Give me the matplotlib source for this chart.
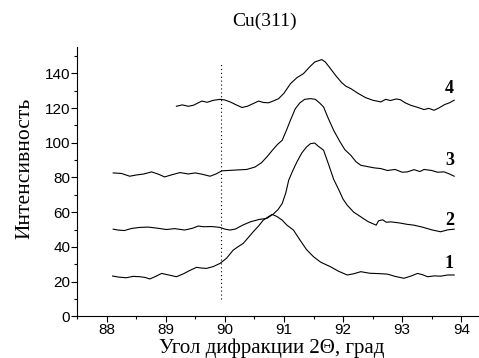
import matplotlib
matplotlib.use("Agg")
from matplotlib import pyplot as plt
from matplotlib.ticker import MultipleLocator

# curve 1
x1 = [88.10, 88.20, 88.33, 88.45, 88.56, 88.65, 88.73, 88.83, 88.93, 89.05,
      89.18, 89.30, 89.40, 89.52, 89.60, 89.69, 89.80, 89.92, 90.03, 90.14,
      90.22, 90.31, 90.40, 90.48, 90.57, 90.65, 90.72, 90.80, 90.88, 90.97,
      91.05, 91.16, 91.27, 91.38, 91.50, 91.62, 91.79, 91.92, 92.07, 92.18,
      92.30, 92.45, 92.60, 92.75, 92.88, 93.03, 93.15, 93.26, 93.35, 93.43,
      93.55, 93.65, 93.77, 93.88]
y1 = [23.2, 22.6, 22.2, 23.0, 22.8, 22.4, 21.5, 23.0, 24.7, 23.8,
      22.8, 24.5, 26.3, 28.2, 27.8, 27.6, 28.6, 30.5, 33.5, 38.1,
      40.0, 42.0, 45.5, 48.7, 52.0, 55.4, 57.0, 58.7, 57.5, 55.4,
      52.5, 49.7, 44.0, 38.5, 34.3, 31.2, 28.5, 26.0, 23.8, 24.5,
      25.7, 24.8, 24.6, 24.3, 23.0, 21.9, 23.2, 24.7, 23.9, 22.8,
      23.3, 23.1, 23.8, 23.8]

# curve 2
x2 = [88.11, 88.19, 88.30, 88.42, 88.56, 88.70, 88.85, 89.01, 89.15, 89.32,
      89.45, 89.55, 89.64, 89.78, 89.92, 90.00, 90.09, 90.18, 90.30, 90.43,
      90.58, 90.71, 90.82, 90.90, 90.97, 91.03, 91.08, 91.15, 91.22, 91.30,
      91.38, 91.45, 91.52, 91.58, 91.67, 91.75, 91.84, 91.93, 92.00, 92.07,
      92.18, 92.30, 92.42, 92.56, 92.60, 92.67, 92.73, 92.81, 92.95, 93.08,
      93.20, 93.35, 93.50, 93.65, 93.77, 93.88]
y2 = [50.2, 49.7, 49.4, 50.6, 51.2, 51.4, 50.8, 50.0, 50.5, 49.7,
      50.7, 52.0, 51.6, 51.7, 51.2, 50.2, 49.7, 50.3, 52.5, 54.4,
      55.8, 56.4, 58.9, 61.5, 65.0, 71.0, 78.4, 84.0, 89.0, 94.0,
      97.5, 99.5, 99.8, 98.0, 95.7, 88.0, 79.0, 72.7, 67.5, 64.0,
      60.0, 57.3, 54.6, 52.5, 55.0, 55.6, 54.2, 54.4, 53.8, 53.0,
      52.5, 51.3, 49.8, 48.7, 49.8, 50.2]

# curve 3
x3 = [88.11, 88.25, 88.39, 88.50, 88.63, 88.76, 88.88, 88.98, 89.10, 89.24,
      89.38, 89.50, 89.62, 89.75, 89.85, 89.95, 90.05, 90.20, 90.37, 90.51,
      90.62, 90.71, 90.80, 90.89, 90.97, 91.04, 91.11, 91.19, 91.27, 91.35,
      91.45, 91.53, 91.60, 91.67, 91.75, 91.84, 91.94, 92.03, 92.13, 92.22,
      92.30, 92.42, 92.53, 92.64, 92.75, 92.88, 93.00, 93.09, 93.20, 93.30,
      93.37, 93.50, 93.60, 93.71, 93.80, 93.88]
y3 = [82.6, 82.3, 80.7, 81.4, 82.0, 83.2, 81.8, 80.3, 81.5, 82.8,
      82.0, 82.6, 81.8, 80.7, 82.0, 83.8, 84.0, 84.3, 84.6, 86.0,
      88.5, 91.8, 95.5, 99.0, 101.4, 107.0, 113.0, 119.5, 123.0, 125.0,
      125.4, 125.0, 123.0, 120.6, 114.0, 107.2, 101.0, 96.0, 92.8, 89.0,
      87.0, 86.2, 85.5, 85.1, 84.0, 84.6, 83.0, 83.2, 84.5, 83.4,
      84.6, 84.0, 83.0, 83.2, 82.0, 80.7]

# curve 4
x4 = [89.18, 89.28, 89.38, 89.47, 89.55, 89.61, 89.70, 89.80, 89.92, 90.00,
      90.09, 90.18, 90.29, 90.38, 90.47, 90.57, 90.65, 90.74, 90.83, 90.91,
      91.00, 91.11, 91.22, 91.33, 91.43, 91.52, 91.58, 91.64, 91.70, 91.78,
      91.88, 91.98, 92.05, 92.13, 92.25, 92.38, 92.50, 92.64, 92.72, 92.80,
      92.90, 92.97, 93.05, 93.15, 93.25, 93.37, 93.45, 93.54, 93.62, 93.72,
      93.80, 93.88]
y4 = [121.0, 121.8, 121.0, 121.6, 123.0, 124.0, 123.3, 124.4, 125.0, 124.6,
      123.5, 122.0, 120.3, 121.0, 122.4, 124.0, 123.2, 123.0, 124.2, 125.4,
      128.5, 134.0, 137.5, 139.8, 143.5, 146.5, 147.2, 147.9, 146.5, 143.0,
      138.5, 134.5, 132.5, 131.2, 128.5, 126.0, 124.5, 123.5, 125.0, 124.3,
      125.2, 124.8, 123.0, 121.5, 120.5, 119.1, 119.8, 118.7, 120.0, 122.0,
      123.0, 124.5]

curves = [(x1, y1), (x2, y2), (x3, y3), (x4, y4)]
labels = ["1", "2", "3", "4"]
label_y = [30.5, 55.4, 90.0, 131.0]
label_x = 93.8

marker_x = 89.93
marker_span = (10, 146)

fig = plt.figure(figsize=(4.79, 3.58), dpi=100)
ax = fig.add_axes([0.161, 0.1165, 0.839, 0.7515])

for x, y in curves:
    ax.plot(x, y, color="black", lw=0.8)

ax.plot([marker_x, marker_x], marker_span, color="black", lw=0.8, ls=(0, (1, 2.5)))

for lab, ly in zip(labels, label_y):
    ax.text(label_x, ly, lab, fontsize=13, fontweight="bold",
            family="Liberation Serif", ha="center", va="center")

ax.set_xlim(87.5, 94.3)
ax.set_ylim(0, 155)
ax.xaxis.set_major_locator(MultipleLocator(1))
ax.xaxis.set_minor_locator(MultipleLocator(0.5))
ax.yaxis.set_major_locator(MultipleLocator(20))
ax.yaxis.set_minor_locator(MultipleLocator(10))
ax.spines["top"].set_visible(False)
ax.spines["right"].set_visible(False)
ax.tick_params(which="major", direction="out", length=4, width=0.8, labelsize=11, pad=1)
ax.tick_params(which="minor", direction="out", length=2.5, width=0.8)
for lbl in ax.get_xticklabels() + ax.get_yticklabels():
    lbl.set_family("Liberation Sans")

ax.set_xlabel("Угол дифракции 2Θ, град", family="Liberation Serif", fontsize=15)
ax.xaxis.label.set_va("baseline")
ax.xaxis.set_label_coords(0.485, -0.137)
ax.set_ylabel("Интенсивность", family="Liberation Serif", fontsize=15.5)
ax.yaxis.label.set_va("center")
ax.yaxis.set_label_coords(-0.13, 0.55)
fig.text(0.552, 0.94, "Cu(311)", family="Liberation Serif", fontsize=14,
         ha="center", va="center")

fig.savefig("out.png", dpi=100)
